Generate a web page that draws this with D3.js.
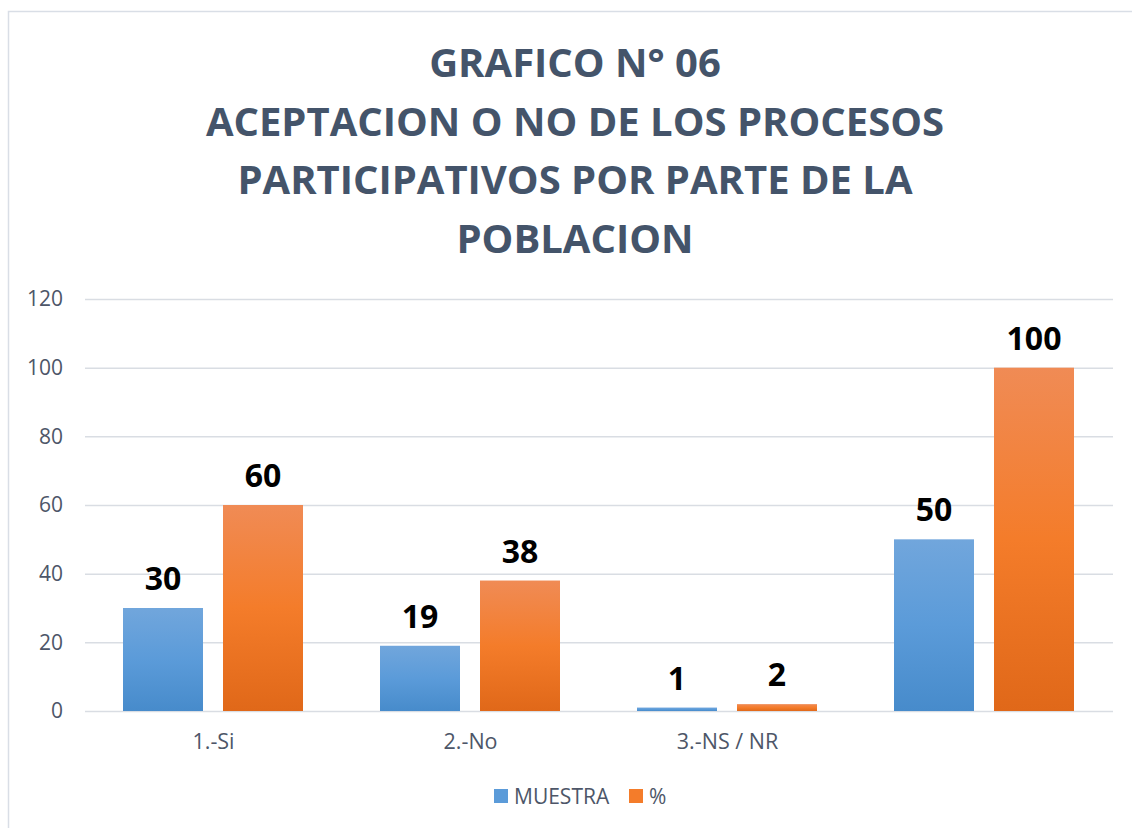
<!DOCTYPE html>
<html>
<head>
<meta charset="utf-8">
<script src="https://cdn.jsdelivr.net/npm/d3@7"></script>
<style>
  body { margin: 0; background: #fff; }
  svg { display: block; font-family: "Open Sans", "Liberation Sans", sans-serif; }
</style>
</head>
<body>
<svg id="chart" width="1132" height="828"></svg>
<script>
var categories = ["1.-Si", "2.-No", "3.-NS / NR", ""];
var muestra = [30, 19, 1, 50];
var pct = [60, 38, 2, 100];
var seriesNames = ["MUESTRA", "%"];
var yTicks = [0, 20, 40, 60, 80, 100, 120];
var titleLines = ["GRAFICO N° 06", "ACEPTACION O NO DE LOS PROCESOS", "PARTICIPATIVOS POR PARTE DE LA", "POBLACION"];

var svg = d3.select("#chart");

// chart frame
svg.append("rect").attr("x", 8.5).attr("y", 11.5).attr("width", 1140).attr("height", 830)
  .attr("fill", "#fff").attr("stroke", "#d9dee6").attr("stroke-width", 1.5);

var defs = svg.append("defs");
var gBlue = defs.append("linearGradient").attr("id", "gBlue").attr("x1", 0).attr("y1", 0).attr("x2", 0).attr("y2", 1);
gBlue.append("stop").attr("offset", "0%").attr("stop-color", "#71a6dc");
gBlue.append("stop").attr("offset", "50%").attr("stop-color", "#5b9bd9");
gBlue.append("stop").attr("offset", "100%").attr("stop-color", "#478bcb");
var gOrange = defs.append("linearGradient").attr("id", "gOrange").attr("x1", 0).attr("y1", 0).attr("x2", 0).attr("y2", 1);
gOrange.append("stop").attr("offset", "0%").attr("stop-color", "#f08b55");
gOrange.append("stop").attr("offset", "50%").attr("stop-color", "#f47c2a");
gOrange.append("stop").attr("offset", "100%").attr("stop-color", "#e06819");

var pLeft = 85, pRight = 1113, pTop = 299, pBottom = 711;

var x = d3.scaleBand().domain(d3.range(categories.length)).range([pLeft, pRight]);
var x1 = d3.scaleBand().domain([0, 1]).range([38, 218]).paddingInner(0.2);
var y = d3.scaleLinear().domain([0, 120]).range([pBottom, pTop]);

// title
svg.append("g").selectAll("text").data(titleLines).enter().append("text")
  .attr("x", 575).attr("y", function (d, i) { return 77 + i * 58.5; })
  .attr("text-anchor", "middle").attr("fill", "#44546a")
  .attr("font-size", 40).attr("font-weight", "bold")
  .text(function (d) { return d; });

// grid
var yAxis = d3.axisLeft(y).tickValues(yTicks).tickSize(-(pRight - pLeft)).tickPadding(22);
var ga = svg.append("g").attr("transform", "translate(" + pLeft + ",0)").call(yAxis);
ga.select(".domain").remove();
ga.selectAll(".tick line").attr("stroke", "#d9dde3").attr("stroke-width", 1.5);
ga.selectAll(".tick text").attr("fill", "#4d5668").attr("font-size", 21).attr("font-family", "Open Sans, sans-serif");

// x labels
var xAxis = d3.axisBottom(x).tickFormat(function (d) { return categories[d]; }).tickSize(0).tickPadding(23);
var gx = svg.append("g").attr("transform", "translate(0," + pBottom + ")").call(xAxis);
gx.select(".domain").remove();
gx.selectAll(".tick text").attr("fill", "#4d5668").attr("font-size", 21.5).attr("font-family", "Open Sans, sans-serif");

var series = [muestra, pct];
var fills = ["url(#gBlue)", "url(#gOrange)"];

series.forEach(function (vals, s) {
  var g = svg.append("g");
  g.selectAll("rect").data(vals).enter().append("rect")
    .attr("x", function (d, i) { return x(i) + x1(s); })
    .attr("width", x1.bandwidth())
    .attr("y", function (d) { return y(d); })
    .attr("height", function (d) { return y(0) - y(d); })
    .attr("fill", fills[s]);
  g.selectAll("text").data(vals).enter().append("text")
    .attr("x", function (d, i) { return x(i) + x1(s) + x1.bandwidth() / 2; })
    .attr("y", function (d) { return y(d) - 18; })
    .attr("text-anchor", "middle").attr("font-size", 32).attr("font-weight", "bold")
    .attr("fill", "#000")
    .text(function (d) { return d; });
});

// legend
var legendColors = ["#5b9bd9", "#f47c2a"];
var lg = svg.append("g").attr("transform", "translate(494,788)");
var offs = [0, 135];
seriesNames.forEach(function (n, i) {
  lg.append("rect").attr("x", offs[i]).attr("y", 1).attr("width", 14).attr("height", 14).attr("fill", legendColors[i]);
  lg.append("text").attr("x", offs[i] + 20).attr("y", 15.5).attr("font-size", 21)
    .attr("fill", "#4d5668").text(n);
});
</script>
</body>
</html>
